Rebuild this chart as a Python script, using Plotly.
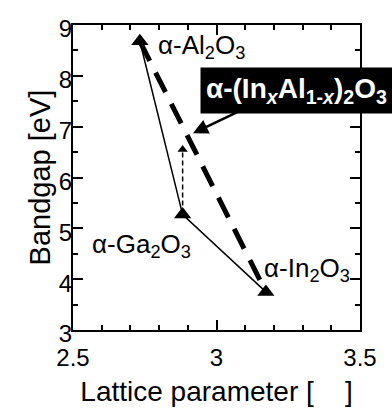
import plotly.graph_objects as go

# Data (lattice parameter, bandgap)
names = ["α-Al<sub>2</sub>O<sub>3</sub>", "α-Ga<sub>2</sub>O<sub>3</sub>", "α-In<sub>2</sub>O<sub>3</sub>"]
lattice = [2.733, 2.882, 3.172]
bandgap = [8.68, 5.27, 3.75]

# thick dashed alloy line (Al2O3 -> In2O3)
alloy_x = [2.733, 3.172]
alloy_y = [8.68, 3.75]

# dashed vertical arrow from Ga2O3 upward
vert_x = [2.882, 2.882]
vert_y = [5.45, 6.55]

# label positions
label_x = [2.79, 2.56, 3.16]
label_y = [8.57, 4.66, 4.2]

FONT = "Liberation Sans, Arial, sans-serif"

fig = go.Figure()

fig.add_trace(go.Scatter(x=alloy_x, y=alloy_y, mode="lines",
                         line=dict(color="black", width=5, dash="22px,13px"),
                         showlegend=False, hoverinfo="skip"))
fig.add_trace(go.Scatter(x=lattice, y=bandgap, mode="lines",
                         line=dict(color="black", width=1.5),
                         showlegend=False, hoverinfo="skip"))
fig.add_trace(go.Scatter(x=vert_x, y=vert_y, mode="lines",
                         line=dict(color="black", width=1.5, dash="5px,3px"),
                         showlegend=False, hoverinfo="skip"))
fig.add_trace(go.Scatter(x=[vert_x[1]], y=[vert_y[1]], mode="markers",
                         marker=dict(symbol="triangle-up", size=9, color="black"),
                         showlegend=False, hoverinfo="skip"))
fig.add_trace(go.Scatter(x=lattice, y=bandgap, mode="markers",
                         marker=dict(symbol="triangle-up", size=15, color="black"),
                         showlegend=False, hoverinfo="skip"))

for t, lx, ly in zip(names, label_x, label_y):
    fig.add_annotation(x=lx, y=ly, xref="x", yref="y", text=t, showarrow=False,
                       xanchor="left", yanchor="middle",
                       font=dict(family=FONT, size=26, color="black"))

# alloy label box
fig.add_annotation(x=3.277, y=7.72, xref="x", yref="y",
                   text="<b>α-(In<sub><i>x</i></sub>Al<sub>1-<i>x</i></sub>)<sub>2</sub>O<sub>3</sub></b>",
                   showarrow=False, xanchor="center", yanchor="middle",
                   bgcolor="black", borderpad=5,
                   font=dict(family=FONT, size=28, color="white"))
# arrow from label to alloy line
fig.add_annotation(x=2.918, y=6.87, ax=3.085, ay=7.32, xref="x", yref="y",
                   axref="x", ayref="y", text="", showarrow=True,
                   arrowhead=2, arrowsize=1.2, arrowwidth=2.5, arrowcolor="black")

axis_common = dict(showline=True, linecolor="black", linewidth=2, mirror="allticks",
                   ticks="inside", ticklen=10, tickwidth=1.5, tickcolor="black",
                   showgrid=False, zeroline=False,
                   tickfont=dict(family=FONT, size=24, color="black"))

fig.update_xaxes(range=[2.5, 3.5], dtick=0.5, tick0=2.5, ticklabelstandoff=5,
                 minor=dict(dtick=0.1, ticks="inside", ticklen=5, tickcolor="black", tickwidth=1.5),
                 title=dict(text="Lattice parameter [    ]", font=dict(family=FONT, size=28, color="black"), standoff=12),
                 **axis_common)
fig.update_yaxes(range=[3, 9], dtick=1, tick0=3, ticklabelstandoff=-6, ticklabelshift=4,
                 minor=dict(dtick=0.5, ticks="inside", ticklen=5, tickcolor="black", tickwidth=1.5),
                 title=dict(text="Bandgap [eV]", font=dict(family=FONT, size=29, color="black"), standoff=0),
                 **axis_common)

fig.update_layout(width=392, height=414, margin=dict(l=73, r=32, t=25, b=68),
                  plot_bgcolor="white", paper_bgcolor="white",
                  font=dict(family=FONT))

fig.write_html("out.html")
